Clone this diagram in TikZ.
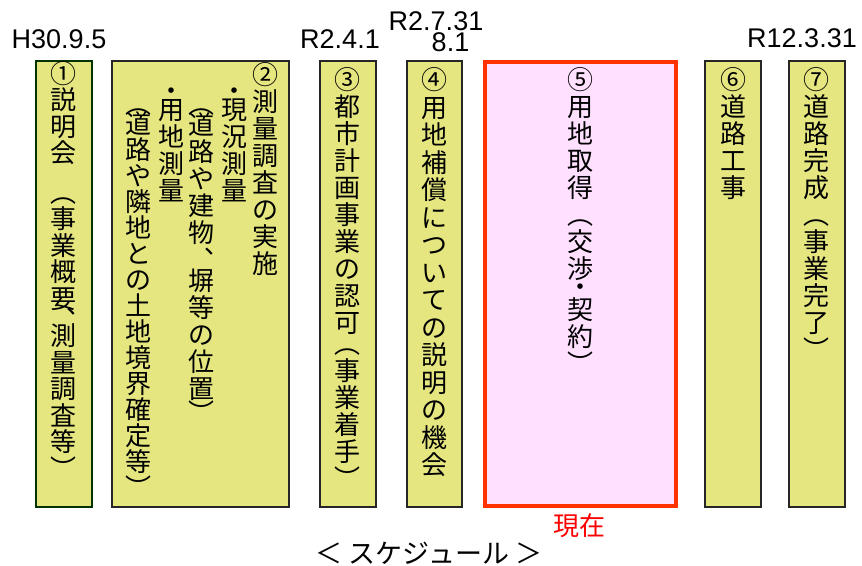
\documentclass[tikz,border=0pt]{standalone}
\usepackage{fontspec}
\setmainfont{Liberation Sans}
\newfontfamily\cjk{Noto Sans CJK JP}
\definecolor{stepyellow}{RGB}{229,230,128}
\definecolor{nowpink}{RGB}{255,225,255}
\definecolor{nowred}{RGB}{255,51,0}
\definecolor{firstgreen}{RGB}{0,51,0}
\usetikzlibrary{positioning}
\newcommand\vfont{\cjk\fontsize{26}{27}\selectfont\lineskiplimit=-30pt\relax}
\newcommand\cellstrut{\rule{0pt}{22.88pt}}

\begin{document}
\begin{tikzpicture}[x=1pt, y=-1pt,
  ybox/.style={draw=black!85, fill=stepyellow, line width=2pt, inner sep=0pt, outer sep=0pt, minimum width=56, minimum height=446},
  nowbox/.style={draw=nowred, fill=nowpink, line width=4pt, inner sep=0pt, outer sep=0pt, minimum width=191, minimum height=444},
  vcol/.style={font=\vfont, align=center, inner sep=0pt, anchor=north},
  datelbl/.style={font=\fontsize{27}{16}\selectfont, inner sep=0pt, anchor=base}
]
  \useasboundingbox (0,0) rectangle (862,565);

  % boxes
  \node[ybox, draw=firstgreen] (s1) at (63.5,283.5) {};
  \node[ybox, minimum width=177] (s2) at (200,283.5) {};
  \node[ybox] (s3) at (347.5,283.5) {};
  \node[ybox, minimum width=55] (s4) at (434,283.5) {};
  \node[nowbox] (s5) at (580,284) {};
  \node[ybox] (s6) at (732.5,283.5) {};
  \node[ybox] (s7) at (816.5,283.5) {};

  % dates
  \node[datelbl] (d1) at (59,48) {H30.9.5};
  \node[datelbl] (d3) at (340,48) {R2.4.1};
  \node[datelbl] (d4) at (436,30) {R2.7.31};
  \node[datelbl] (d4b) at (450.5,51) {8.1};
  \node[datelbl] (d7) at (802,47) {R12.3.31};

  % vertical texts
  \node[vcol, font=\vfont\fontsize{26}{26.5}\selectfont] (t1) at (63.5,60) {\cellstrut①\\説\\明\\会\\[13pt]︵\\事\\業\\概\\要\\[-5pt]︑\\[-10.5pt]測\\量\\調\\査\\等\\︶};
  \node[vcol] (t2a) at (265,61) {\cellstrut②\\測\\量\\調\\査\\の\\実\\施};
  \node[vcol] (t2b) at (234,77) {\cellstrut・\\[-7.5pt]現\\況\\測\\量};
  \node[vcol] (t2c) at (201,90) {\cellstrut︵\\[-5.5pt]道\\路\\や\\建\\物\\︑\\[-6pt]塀\\等\\の\\位\\置\\[-3pt]︶};
  \node[vcol] (t2d) at (171,77) {\cellstrut・\\[-7.5pt]用\\地\\測\\量};
  \node[vcol, font=\vfont\fontsize{26}{26}\selectfont] (t2e) at (138,90) {\cellstrut︵\\[-5.5pt]道\\路\\や\\隣\\地\\と\\の\\土\\地\\境\\界\\確\\定\\等\\︶};
  \node[vcol] (t3) at (347.5,66.5) {\cellstrut③\\都\\市\\計\\画\\事\\業\\の\\認\\可\\[-6.5pt]︵\\事\\業\\着\\手\\︶};
  \node[vcol, font=\vfont\fontsize{26}{27.5}\selectfont] (t4) at (434,66.5) {\cellstrut④\\用\\地\\補\\償\\に\\つ\\い\\て\\の\\説\\明\\の\\機\\会};
  \node[vcol] (t5) at (580.5,66.5) {\cellstrut⑤\\用\\地\\取\\得\\︵\\交\\渉\\[-9pt]・\\[-4.5pt]契\\約\\︶};
  \node[vcol] (t6) at (733,66.5) {\cellstrut⑥\\道\\路\\工\\事};
  \node[vcol] (t7) at (816.5,66.5) {\cellstrut⑦\\道\\路\\完\\成\\︵\\事\\業\\完\\了\\︶};

  % bottom
  \node[font=\cjk\fontsize{26}{26}\selectfont, text=red, inner sep=0pt, anchor=base] (now) at (579,535) {現在};
  \node[font=\cjk\fontsize{27}{27}\selectfont, inner sep=0pt, anchor=base] (title) at (429,563) {＜ スケジュール ＞};
\end{tikzpicture}
\end{document}
